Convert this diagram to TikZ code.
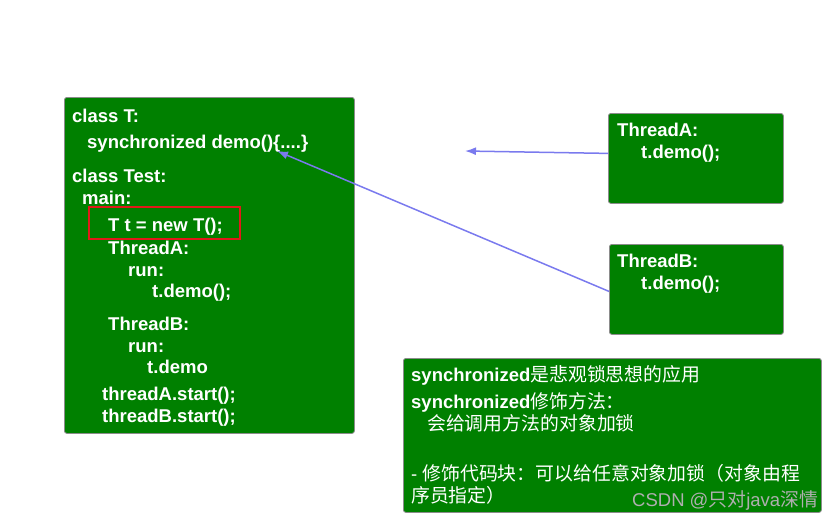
\documentclass[tikz,border=0pt]{standalone}
\usepackage{fontspec}
\setmainfont{Liberation Sans}
\newfontfamily\cjk{Noto Sans CJK SC}[Scale=1.02]
\usetikzlibrary{arrows.meta}
\definecolor{boxgreen}{RGB}{0,128,0}
\definecolor{boxedge}{RGB}{140,140,140}
\definecolor{arrowblue}{RGB}{122,122,238}
\definecolor{wmgray}{RGB}{175,175,175}
\definecolor{markred}{RGB}{225,25,25}
\begin{document}
\begin{tikzpicture}[x=1pt,y=-1pt,
  box/.style={draw=boxedge, line width=0.8pt, fill=boxgreen, rounded corners=2.5pt, anchor=north west, inner sep=0pt},
  code/.style={anchor=base west, inner sep=0pt, text=white, font=\fontsize{18.5}{22}\selectfont\bfseries},
  note/.style={anchor=base west, inner sep=0pt, text=white, font=\fontsize{18.5}{22}\selectfont},
  redmark/.style={rectangle, draw=markred, line width=1.5pt, anchor=north west, inner sep=0pt, fill=none},
  arr/.style={draw=arrowblue, line width=1.5pt, -{Latex[length=11pt,width=8pt]}},
  wm/.style={anchor=base west, inner sep=0pt, text=wmgray, font=\fontsize{18.5}{22}\selectfont}]
\useasboundingbox (0,0) rectangle (835,520);
% boxes
\node[box, minimum width=290pt, minimum height=336pt] (main) at (64,97) {};
\node[box, minimum width=175pt, minimum height=90pt] (ta) at (608,113) {};
\node[box, minimum width=174pt, minimum height=90pt] (tb) at (609,244) {};
\node[box, minimum width=418pt, minimum height=154pt] (nt) at (403,358) {};
% main code
\node[code] (l1) at (72,122) {class T:};
\node[code] (l2) at (87,148) {synchronized demo()\{....\}};
\node[code] (l3) at (72,182) {class Test:};
\node[code] (l4) at (82,204) {main:};
\node[code] (l5) at (108,231) {T t = new T();};
\node[code] (l6) at (108,254) {ThreadA:};
\node[code] (l7) at (128,276) {run:};
\node[code] (l8) at (152,297) {t.demo();};
\node[code] (l9) at (108,330) {ThreadB:};
\node[code] (l10) at (128,352) {run:};
\node[code] (l11) at (147,373) {t.demo};
\node[code] (l12) at (102,400) {threadA.start();};
\node[code] (l13) at (102,422) {threadB.start();};
% red mark
\node[redmark, minimum width=151pt, minimum height=32pt] (rm) at (88,206) {};
% thread boxes
\node[code] (a1) at (617,136) {ThreadA:};
\node[code] (a2) at (641,158) {t.demo();};
\node[code] (b1) at (617,267) {ThreadB:};
\node[code] (b2) at (641,289) {t.demo();};
% note
\node[note] (n1) at (411,381) {\textbf{synchronized}{\cjk 是悲观锁思想的应用}};
\node[note] (n2) at (411,408) {\textbf{synchronized}{\cjk 修饰方法：}};
\node[note] (n3) at (427,430) {\cjk 会给调用方法的对象加锁};
\node[note] (n4) at (411,480) {- {\cjk 修饰代码块：可以给任意对象加锁（对象由程}};
\node[note] (n5) at (411,502) {\cjk 序员指定）};
\node[wm] (w) at (632,506) {CSDN @{\cjk 只对}java{\cjk 深情}};
% arrows
\coordinate (tipA) at (465,151);
\coordinate (tipB) at (277,151);
\draw[arr] ([yshift=5pt]ta.west) -- (tipA);
\draw[arr] ([yshift=-2pt]tb.west) -- (tipB);
\end{tikzpicture}
\end{document}
